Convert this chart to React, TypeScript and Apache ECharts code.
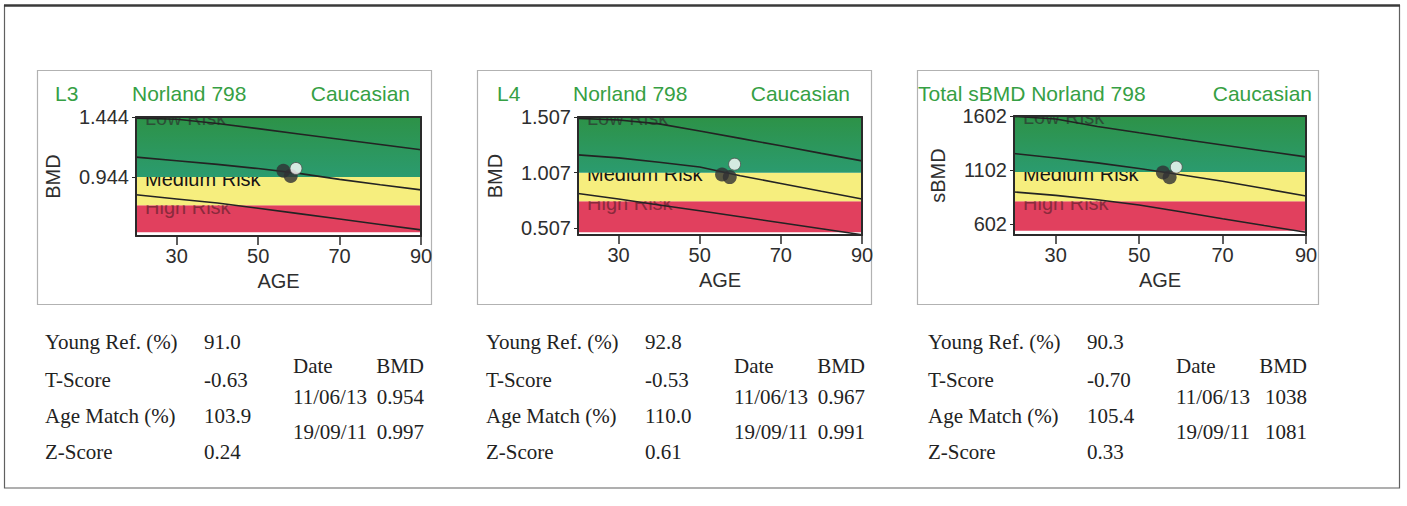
import React, { useEffect, useRef } from 'react';
import * as echarts from 'echarts';

// ---------- data ----------
const AGES = [20, 30, 40, 50, 60, 70, 80, 90];
const AGE_TICKS = [30, 50, 70, 90];
const AGE_RANGE = [20, 90];
const BAND_NAMES = ['High Risk', 'Medium Risk', 'Low Risk'];
const SCAN_DATES = ['11/06/13', '19/09/11'];
const STAT_LABELS = ['Young Ref. (%)', 'T-Score', 'Age Match (%)', 'Z-Score'];

// L3
const L3_UPPER = [1.435, 1.425, 1.39, 1.347, 1.303, 1.259, 1.215, 1.171];
const L3_MEAN = [1.11, 1.08, 1.05, 1.015, 0.975, 0.925, 0.88, 0.838];
const L3_LOWER = [0.797, 0.762, 0.728, 0.685, 0.64, 0.595, 0.55, 0.505];
const L3_BANDS = [[0.486, 0.71], [0.71, 0.944], [0.944, 1.444]];
const L3_RANGE = [0.454, 1.444];
const L3_TICKS = [0.944, 1.444];
const L3_SCAN_AGES = [58.0, 56.2];
const L3_BMD = [0.954, 0.997];
const L3_MARK = [[59.3, 1.016]];
const L3_STATS = ['91.0', '-0.63', '103.9', '0.24'];

// L4
const L4_UPPER = [1.495, 1.48, 1.445, 1.382, 1.315, 1.248, 1.18, 1.113];
const L4_MEAN = [1.167, 1.14, 1.1, 1.058, 0.98, 0.91, 0.84, 0.771];
const L4_LOWER = [0.82, 0.77, 0.717, 0.665, 0.611, 0.557, 0.503, 0.449];
const L4_BANDS = [[0.471, 0.75], [0.75, 1.007], [1.007, 1.507]];
const L4_RANGE = [0.447, 1.507];
const L4_TICKS = [0.507, 1.007, 1.507];
const L4_SCAN_AGES = [57.4, 55.5];
const L4_BMD = [0.967, 0.991];
const L4_MARK = [[58.6, 1.083]];
const L4_STATS = ['92.8', '-0.53', '110.0', '0.61'];

// Total sBMD
const SB_UPPER = [1598, 1575, 1505, 1447, 1390, 1335, 1280, 1225];
const SB_MEAN = [1256, 1215, 1170, 1118, 1060, 1000, 933, 865];
const SB_LOWER = [902, 870, 830, 782, 720, 655, 592, 530];
const SB_BANDS = [[545, 815], [815, 1085], [1085, 1602]];
const SB_RANGE = [505, 1602];
const SB_TICKS = [602, 1102, 1602];
const SB_SCAN_AGES = [57.3, 55.7];
const SB_BMD = [1038, 1081];
const SB_MARK = [[58.9, 1131]];
const SB_STATS = ['90.3', '-0.70', '105.4', '0.33'];

// ---------- styles / layout ----------
const SANS = '"Liberation Sans", Arial, Helvetica, sans-serif';
const SERIF = '"Liberation Serif", "Times New Roman", serif';
const TITLE_GREEN = '#36a044';
const AXIS_DARK = '#2a2a2a';
const TEXT_DARK = '#2e2e2e';

const GREEN_FILL = new echarts.graphic.LinearGradient(0, 0, 0, 1, [
  { offset: 0, color: '#2d9247' },
  { offset: 1, color: '#2b9b6f' },
]);
const BAND_FILLS: any[] = ['#e1405e', '#f6ee7e', GREEN_FILL];
const BAND_TEXT = ['#8a2a3c', '#151515', '#2c4f37'];
const BAND_LABEL_DY = [1.5, 1.5, 1];

const PANELS = [
  {
    grid: { left: 136, top: 117, width: 285, height: 119 },
    box: { x: 37, y: 70, w: 394, h: 234 },
    titles: [
      { text: 'L3', x: 55, align: 'left' },
      { text: 'Norland 798', x: 132, align: 'left' },
      { text: 'Caucasian', x: 410, align: 'right' },
    ],
    yName: 'BMD', nameGap: 73, decimals: 3,
    upper: L3_UPPER, mean: L3_MEAN, lower: L3_LOWER, bands: L3_BANDS,
    range: L3_RANGE, ticks: L3_TICKS, scanAges: L3_SCAN_AGES, bmd: L3_BMD,
    mark: L3_MARK, stats: L3_STATS, dx: 0,
  },
  {
    grid: { left: 578, top: 117, width: 284, height: 118 },
    box: { x: 477, y: 70, w: 394, h: 234 },
    titles: [
      { text: 'L4', x: 497, align: 'left' },
      { text: 'Norland 798', x: 573, align: 'left' },
      { text: 'Caucasian', x: 850, align: 'right' },
    ],
    yName: 'BMD', nameGap: 73, decimals: 3,
    upper: L4_UPPER, mean: L4_MEAN, lower: L4_LOWER, bands: L4_BANDS,
    range: L4_RANGE, ticks: L4_TICKS, scanAges: L4_SCAN_AGES, bmd: L4_BMD,
    mark: L4_MARK, stats: L4_STATS, dx: 441,
  },
  {
    grid: { left: 1014, top: 116, width: 292, height: 119 },
    box: { x: 917, y: 70, w: 401, h: 234 },
    titles: [
      { text: 'Total sBMD Norland 798', x: 918, align: 'left' },
      { text: 'Caucasian', x: 1312, align: 'right' },
    ],
    yName: 'sBMD', nameGap: 66, decimals: 0,
    upper: SB_UPPER, mean: SB_MEAN, lower: SB_LOWER, bands: SB_BANDS,
    range: SB_RANGE, ticks: SB_TICKS, scanAges: SB_SCAN_AGES, bmd: SB_BMD,
    mark: SB_MARK, stats: SB_STATS, dx: 883,
  },
];

const STAT_ROWS_Y = [342, 380, 416, 452];
const DATE_ROWS_Y = [366, 397, 432];

function text(t: string, x: number, y: number, font: string, size: number, fill: string, align = 'left') {
  return {
    type: 'text',
    x, y,
    style: {
      text: t, fill, fontSize: size, fontFamily: font,
      align, textAlign: align, verticalAlign: 'middle', textVerticalAlign: 'middle',
    },
    z: 1,
  };
}

function bandRenderer(k: number) {
  return (params: any, api: any) => {
    const lo = api.value(0);
    const hi = api.value(1);
    const cs = params.coordSys;
    const top = api.coord([AGE_RANGE[0], hi])[1];
    const bottom = api.coord([AGE_RANGE[0], lo])[1];
    return {
      type: 'group',
      children: [
        {
          type: 'rect',
          shape: { x: cs.x, y: top, width: cs.width, height: bottom - top },
          style: { fill: BAND_FILLS[k] },
          z2: 0,
        },
        {
          type: 'text',
          x: cs.x + 9,
          y: top + BAND_LABEL_DY[k],
          style: {
            text: BAND_NAMES[k], fill: BAND_TEXT[k], fontSize: 20, fontFamily: SANS,
            align: 'left', verticalAlign: 'middle',
          },
          z2: 1,
        },
      ],
    };
  };
}

function buildOption() {
  const grid: any[] = [];
  const xAxis: any[] = [];
  const yAxis: any[] = [];
  const series: any[] = [];
  const graphic: any[] = [];

  // outer frame
  graphic.push({
    type: 'rect', shape: { x: 4.5, y: 5.5, width: 1395, height: 482.5 },
    style: { fill: 'none', stroke: '#606060', lineWidth: 1.2 }, z: 0,
  });
  graphic.push({
    type: 'line', shape: { x1: 4, y1: 5.5, x2: 1400, y2: 5.5 },
    style: { stroke: '#3a3a3a', lineWidth: 2.5 }, z: 0,
  });

  PANELS.forEach((p, i) => {
    grid.push({ ...p.grid, show: false });
    const xi = i * 2;
    const lineAx = { show: true, lineStyle: { color: AXIS_DARK, width: 2 } };
    xAxis.push({
      type: 'value', gridIndex: i, min: AGE_RANGE[0], max: AGE_RANGE[1], position: 'bottom', z: 10,
      axisLine: { ...lineAx, onZero: false },
      axisTick: { show: true, customValues: AGE_TICKS, length: 9, lineStyle: { color: AXIS_DARK, width: 1.5 } },
      axisLabel: { customValues: AGE_TICKS, fontSize: 20, fontFamily: SANS, color: TEXT_DARK, margin: 10 },
      splitLine: { show: false },
      name: 'AGE', nameLocation: 'middle', nameGap: 35,
      nameTextStyle: { fontSize: 20, fontFamily: SANS, color: TEXT_DARK },
    });
    xAxis.push({
      type: 'value', gridIndex: i, min: AGE_RANGE[0], max: AGE_RANGE[1], position: 'top', z: 10,
      axisLine: { ...lineAx, onZero: false }, axisTick: { show: false }, axisLabel: { show: false },
      splitLine: { show: false },
    });
    yAxis.push({
      type: 'value', gridIndex: i, min: p.range[0], max: p.range[1], position: 'left', z: 10,
      axisLine: { ...lineAx, onZero: false },
      axisTick: { show: true, customValues: p.ticks, length: 4, lineStyle: { color: AXIS_DARK, width: 1 } },
      axisLabel: {
        customValues: p.ticks, fontSize: 20, fontFamily: SANS, color: TEXT_DARK, margin: 7,
        formatter: (v: number) => v.toFixed(p.decimals),
      },
      splitLine: { show: false },
      name: p.yName, nameLocation: 'middle', nameGap: p.nameGap, nameRotate: 90,
      nameTextStyle: { fontSize: 20, fontFamily: SANS, color: TEXT_DARK },
    });
    yAxis.push({
      type: 'value', gridIndex: i, min: p.range[0], max: p.range[1], position: 'right', z: 10,
      axisLine: { ...lineAx, onZero: false }, axisTick: { show: false }, axisLabel: { show: false },
      splitLine: { show: false },
    });

    // risk bands: each in its own series so the band above hides the top of the label below
    p.bands.forEach((b, k) => {
      series.push({
        type: 'custom', xAxisIndex: xi, yAxisIndex: xi, clip: true, z: 1 + k, silent: true,
        data: [[b[0], b[1]]],
        renderItem: bandRenderer(k),
      });
    });
    [p.upper, p.mean, p.lower].forEach((arr) => {
      series.push({
        type: 'line', xAxisIndex: xi, yAxisIndex: xi, z: 5, symbol: 'none', silent: true, clip: true,
        lineStyle: { color: '#232323', width: 1.6 },
        data: AGES.map((a, k) => [a, arr[k]]),
      });
    });
    series.push({
      type: 'scatter', xAxisIndex: xi, yAxisIndex: xi, z: 6, symbol: 'circle', symbolSize: 14,
      itemStyle: { color: '#2f2f33' },
      data: p.scanAges.map((a, k) => [a, p.bmd[k]]),
    });
    series.push({
      type: 'scatter', xAxisIndex: xi, yAxisIndex: xi, z: 7, symbol: 'circle', symbolSize: 12,
      itemStyle: { color: '#ffffff', borderColor: '#505050', borderWidth: 1 },
      data: p.mark,
    });

    // white cover just above the plot: trims the top of the "Low Risk" label
    graphic.push({
      type: 'rect',
      shape: { x: p.grid.left, y: p.grid.top - 13, width: p.grid.width, height: 13 },
      style: { fill: '#ffffff' }, z: 8, silent: true,
    });

    // panel box
    graphic.push({
      type: 'rect', shape: { x: p.box.x + 0.5, y: p.box.y + 0.5, width: p.box.w, height: p.box.h },
      style: { fill: 'none', stroke: '#b2b2b2', lineWidth: 1.2 }, z: 0,
    });
    // titles
    p.titles.forEach((t) => graphic.push(text(t.text, t.x, 93, SANS, 21, TITLE_GREEN, t.align)));
    // stats table
    STAT_LABELS.forEach((lab, r) => {
      graphic.push(text(lab, 45 + p.dx, STAT_ROWS_Y[r], SERIF, 21, '#222'));
      graphic.push(text(p.stats[r], 204 + p.dx, STAT_ROWS_Y[r], SERIF, 21, '#222'));
    });
    // date table
    graphic.push(text('Date', 293 + p.dx, DATE_ROWS_Y[0], SERIF, 21, '#222'));
    graphic.push(text('BMD', 424 + p.dx, DATE_ROWS_Y[0], SERIF, 21, '#222', 'right'));
    SCAN_DATES.forEach((d, r) => {
      graphic.push(text(d, 293 + p.dx, DATE_ROWS_Y[r + 1], SERIF, 21, '#222'));
      graphic.push(text(p.bmd[r].toFixed(p.decimals), 424 + p.dx, DATE_ROWS_Y[r + 1], SERIF, 21, '#222', 'right'));
    });
  });

  return {
    animation: false,
    backgroundColor: '#ffffff',
    grid, xAxis, yAxis, series, graphic,
  };
}

export default function App() {
  const ref = useRef<HTMLDivElement>(null);
  useEffect(() => {
    if (!ref.current) return;
    const chart = echarts.init(ref.current, null, { renderer: 'svg' });
    chart.setOption(buildOption() as any);
    return () => chart.dispose();
  }, []);
  return (
    <div
      ref={ref}
      style={{ position: 'absolute', left: 0, top: 0, width: 1407, height: 506, background: '#fff' }}
    />
  );
}
